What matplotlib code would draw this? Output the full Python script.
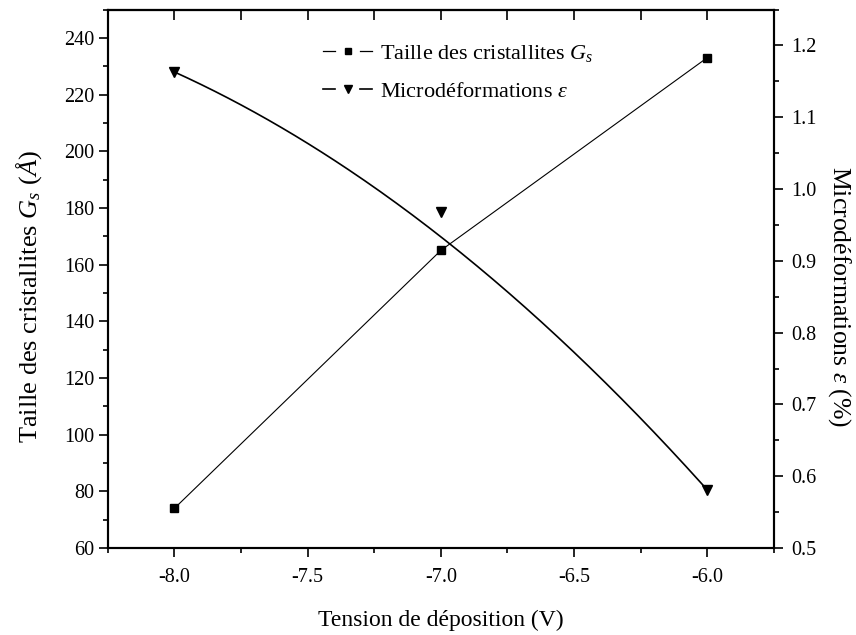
import numpy as np
import matplotlib
matplotlib.use("Agg")
import matplotlib.pyplot as plt
from matplotlib.lines import Line2D
from matplotlib.legend_handler import HandlerTuple
from matplotlib.ticker import MultipleLocator

plt.rcParams['font.family'] = 'Liberation Serif'
plt.rcParams['mathtext.fontset'] = 'custom'
plt.rcParams['mathtext.rm'] = 'Liberation Serif'
plt.rcParams['mathtext.it'] = 'Liberation Serif:italic'

# data
tension = [-8.0, -7.0, -6.0]
taille = [74, 165, 233]              # G_s (Angstrom)
micro = [1.163, 0.968, 0.581]        # epsilon (%)


def bspline3(x, y, tension_k=0.28, n=200):
    # smooth quadratic curve through the end points (Origin-like spline)
    x = np.asarray(x, float)
    y = np.asarray(y, float)
    mid = (y[0] + y[2]) / 2
    c = y[1] + tension_k * (y[1] - mid)
    t = np.linspace(0, 1, n)
    xs = (1 - t) ** 2 * x[0] + 2 * t * (1 - t) * x[1] + t ** 2 * x[2]
    ys = (1 - t) ** 2 * y[0] + 2 * t * (1 - t) * c + t ** 2 * y[2]
    return xs, ys


fig = plt.figure(figsize=(8.56, 6.35), dpi=100)
ax = fig.add_axes([0.126, 0.137, 0.778, 0.848])
ax2 = ax.twinx()

# Gs series
ax.plot(tension, taille, color='black', linewidth=0.8, zorder=3)
ax.plot(tension, taille, linestyle='none', marker='s', markersize=5.5,
        color='black', zorder=4)

# epsilon series
xs, ys = bspline3(tension, micro)
ax2.plot(xs, ys, color='black', linewidth=1.2, zorder=3)
ax2.plot(tension, micro, linestyle='none', marker='v', markersize=6.5,
         color='black', zorder=4)

ax.set_xlim(-8.25, -5.75)
ax.set_ylim(60, 250)
ax2.set_ylim(0.5, 1.25)

ax.xaxis.set_major_locator(MultipleLocator(0.5))
ax.xaxis.set_minor_locator(MultipleLocator(0.25))
ax.yaxis.set_major_locator(MultipleLocator(20))
ax.yaxis.set_minor_locator(MultipleLocator(10))
ax2.yaxis.set_major_locator(MultipleLocator(0.1))
ax2.yaxis.set_minor_locator(MultipleLocator(0.05))

ax.set_xticks([-8.0, -7.5, -7.0, -6.5, -6.0])
ax.set_xticklabels(['-8.0', '-7.5', '-7.0', '-6.5', '-6.0'])
ax.set_yticks(range(60, 241, 20))
ax2.set_yticks(np.round(np.arange(0.5, 1.21, 0.1), 1))
ax2.set_yticklabels(['%.1f' % v for v in np.arange(0.5, 1.21, 0.1)])

for a in (ax, ax2):
    for s in a.spines.values():
        s.set_linewidth(1.5)

ax.tick_params(axis='x', which='major', direction='out', length=6.5,
               width=1.2, labelsize=14.5, pad=8)
ax.tick_params(axis='y', which='major', direction='out', length=6.5,
               width=1.2, labelsize=14.5, pad=3)
ax.tick_params(axis='both', which='minor', direction='out', length=3.5,
               width=1.2)
ax2.tick_params(axis='y', which='major', direction='out', length=6.5,
                width=1.2, labelsize=14.5, pad=6)
ax2.tick_params(axis='y', which='minor', direction='out', length=3.5,
                width=1.2)

# top axis: inward ticks only
top = ax.secondary_xaxis('top')
top.set_xticks(np.arange(-8.0, -5.9, 0.25))
top.tick_params(direction='in', length=7.5, width=1.2, labeltop=False)
top.spines['top'].set_linewidth(1.5)

ax.set_xlabel('Tension de déposition (V)', fontsize=17, labelpad=16)
ax.set_ylabel(r'Taille des cristallites $G_s$ ($\mathit{Å}$)', fontsize=19,
              labelpad=15)
ax2.set_ylabel(r'Microdéformations $\varepsilon$ (%)', fontsize=18.5,
               rotation=270, labelpad=26)
ax.yaxis.label.set_y(0.466)
ax2.yaxis.label.set_y(0.466)

# Origin-style legend: line, marker, line
seg = Line2D([], [], color='black', linewidth=0.9)
seg2 = Line2D([], [], color='black', linewidth=1.2)
m_sq = Line2D([], [], linestyle='none', marker='s', markersize=5, color='black')
m_tr = Line2D([], [], linestyle='none', marker='v', markersize=5.5, color='black')
ax.legend([(seg, m_sq, seg), (seg2, m_tr, seg2)],
          [r'Taille des cristallites $G_s$', r'Microdéformations $\varepsilon$'],
          handler_map={tuple: HandlerTuple(ndivide=None, pad=0.3)},
          loc='upper left', bbox_to_anchor=(0.30, 0.967), frameon=False,
          fontsize=16, handlelength=2.2, handletextpad=0.35,
          labelspacing=0.8, borderpad=0.2)

fig.savefig('out.png', dpi=100)
